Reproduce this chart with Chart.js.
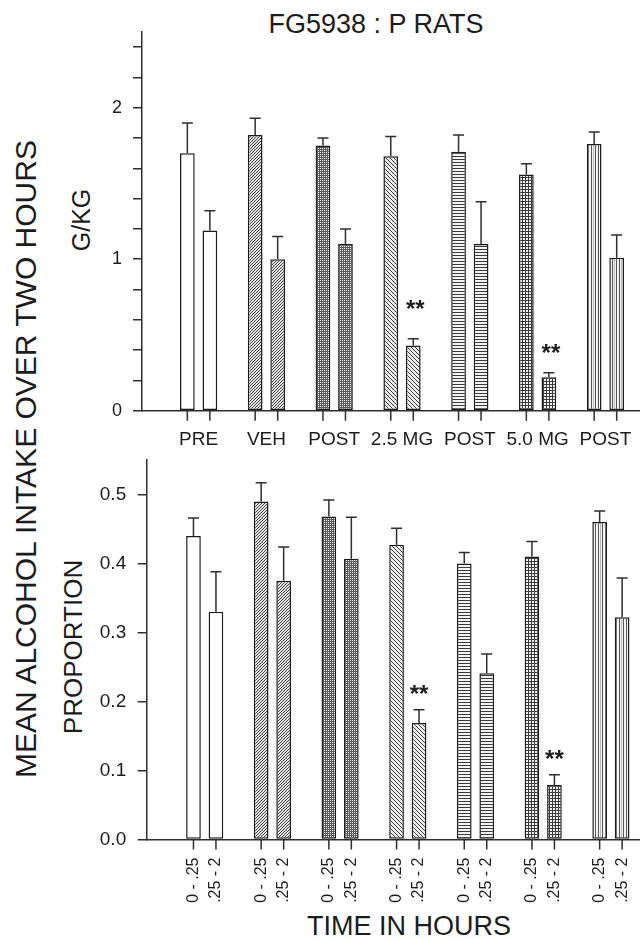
<!DOCTYPE html>
<html>
<head>
<meta charset="utf-8">
<script src="https://cdn.jsdelivr.net/npm/chart.js@4.4.1/dist/chart.umd.min.js"></script>
<style>
  html, body { margin: 0; padding: 0; background: #fff; }
  body { width: 640px; height: 939px; position: relative; overflow: hidden;
         font-family: "Liberation Sans", Arial, sans-serif; color: #1c1c1c; }
  canvas { position: absolute; left: 0; }
  .txt { position: absolute; white-space: nowrap; line-height: 1; transform: translate(-50%, -50%); }
  .rot { transform: translate(-50%, -50%) rotate(-90deg); }
</style>
</head>
<body>
<div class="txt" style="left:376px; top:23.5px; font-size:27px;">FG5938 : P RATS</div>
<div class="txt rot" style="left:26px; top:459px; font-size:30px;">MEAN ALCOHOL INTAKE OVER TWO HOURS</div>
<div class="txt rot" style="left:81px; top:220px; font-size:25px;">G/KG</div>
<div class="txt rot" style="left:72.5px; top:647px; font-size:26px;">PROPORTION</div>
<div class="txt" style="left:409px; top:925.5px; font-size:27px;">TIME IN HOURS</div>

<canvas id="gkg-chart" width="640" height="460" style="top:0"></canvas>
<canvas id="prop-chart" width="640" height="489" style="top:450px"></canvas>

<script>
// --- Datos ---
const groupLabels = ['PRE', 'VEH', 'POST', '2.5 MG', 'POST', '5.0 MG', 'POST'];
const timeLabels = ['0 - .25', '.25 - 2'];
const groupIndex = [0, 1, 2, 3, 4, 5, 6];

// G/KG (panel superior)
const gkgEarly = [1.70, 1.82, 1.75, 1.68, 1.71, 1.56, 1.76];
const gkgEarlyErr = [0.20, 0.11, 0.05, 0.13, 0.11, 0.07, 0.08];
const gkgLate = [1.19, 1.00, 1.10, 0.43, 1.10, 0.22, 1.01];
const gkgLateErr = [0.13, 0.15, 0.10, 0.045, 0.28, 0.03, 0.15];
const gkgStars = [null, null, null, 0.71, null, 0.42, null];
const gkgTicks = [0, 0.2, 0.4, 0.6, 0.8, 1, 1.2, 1.4, 1.6, 1.8, 2, 2.2, 2.4];
const gkgTickLabels = ['0', '', '', '', '', '1', '', '', '', '', '2', '', ''];

// PROPORTION (panel inferior)
const propEarly = [0.44, 0.49, 0.468, 0.427, 0.40, 0.41, 0.46];
const propEarlyErr = [0.026, 0.027, 0.024, 0.024, 0.016, 0.022, 0.016];
const propLate = [0.33, 0.375, 0.407, 0.169, 0.241, 0.079, 0.322];
const propLateErr = [0.058, 0.049, 0.06, 0.019, 0.028, 0.015, 0.057];
const propStars = [null, null, null, 0.219, null, 0.125, null];
const propTicks = [0, 0.1, 0.2, 0.3, 0.4, 0.5];
const propTickLabels = ['0.0', '0.1', '0.2', '0.3', '0.4', '0.5'];

const CAT_PCT = 0.664;
const BAR_PCT = 0.653;
const INK = '#1c1c1c';
const LINE = '#2e2e2e';

Chart.defaults.font.family = '"Liberation Sans", Arial, sans-serif';
Chart.defaults.color = INK;

// Tramas de relleno de las barras, una por grupo
function tile(w, h, paint) {
  const c = document.createElement('canvas');
  c.width = w; c.height = h;
  const g = c.getContext('2d');
  paint(g);
  return g.createPattern(c, 'repeat');
}
function dots(g, color, pts) {
  g.fillStyle = color;
  pts.forEach(([x, y]) => g.fillRect(x, y, 1, 1));
}
const patterns = [
  '#ffffff',
  tile(3, 3, g => { g.fillStyle = '#e4e4e4'; g.fillRect(0, 0, 3, 3); dots(g, '#454545', [[2, 0], [1, 1], [0, 2]]); }),
  tile(2, 2, g => { g.fillStyle = '#5a5a5a'; g.fillRect(0, 0, 2, 2); dots(g, '#f0f0f0', [[0, 0]]); }),
  tile(4, 4, g => { g.fillStyle = '#ececec'; g.fillRect(0, 0, 4, 4); dots(g, '#404040', [[0, 0], [1, 1], [2, 2], [3, 3]]); }),
  tile(1, 3, g => { g.fillStyle = '#f4f4f4'; g.fillRect(0, 0, 1, 3); dots(g, '#3a3a3a', [[0, 0]]); }),
  tile(3, 3, g => { g.fillStyle = '#f4f4f4'; g.fillRect(0, 0, 3, 3); g.fillStyle = '#3a3a3a'; g.fillRect(0, 0, 3, 1); g.fillRect(0, 0, 1, 3); }),
  tile(7, 1, g => { g.fillStyle = '#f4f4f4'; g.fillRect(0, 0, 7, 1); dots(g, '#555555', [[0, 0], [3, 0]]); dots(g, '#bbbbbb', [[5, 0]]); })
];

// Barras de error, asteriscos y marcas del eje x bajo cada barra
const errorBars = {
  id: 'errorBars',
  afterDatasetsDraw(chart, args, opts) {
    const ctx = chart.ctx;
    const yScale = chart.scales.y;
    const base = chart.chartArea.bottom;
    ctx.save();
    ctx.strokeStyle = LINE;
    ctx.lineWidth = 1.5;
    chart.data.datasets.forEach((ds, di) => {
      chart.getDatasetMeta(di).data.forEach((bar, i) => {
        const top = yScale.getPixelForValue(ds.data[i].y + ds.errors[i]);
        ctx.beginPath();
        ctx.moveTo(bar.x, bar.y);
        ctx.lineTo(bar.x, top);
        ctx.moveTo(bar.x - 5.5, top);
        ctx.lineTo(bar.x + 5.5, top);
        // marca del eje
        ctx.moveTo(bar.x, base);
        ctx.lineTo(bar.x, base + 10);
        ctx.stroke();
        if (ds.stars && ds.stars[i] != null) {
          ctx.fillStyle = INK;
          ctx.font = 'bold 24px "Liberation Sans", Arial, sans-serif';
          ctx.textAlign = 'center';
          ctx.textBaseline = 'alphabetic';
          ctx.fillText('**', bar.x + opts.starShift, yScale.getPixelForValue(ds.stars[i]) + 0.57 * 24);
        }
      });
    });
    ctx.restore();
  }
};

function makeChart(id, p) {
  const toPoints = vals => vals.map((v, i) => ({ x: groupIndex[i], y: v }));

  return new Chart(document.getElementById(id), {
    type: 'bar',
    data: {
      datasets: [
        { label: timeLabels[0], data: toPoints(p.early), errors: p.earlyErr },
        { label: timeLabels[1], data: toPoints(p.late), errors: p.lateErr, stars: p.stars }
      ].map(ds => Object.assign(ds, {
        backgroundColor: patterns,
        borderColor: INK,
        borderWidth: 1.5,
        borderSkipped: false,
        categoryPercentage: CAT_PCT,
        barPercentage: BAR_PCT
      }))
    },
    options: {
      responsive: false,
      animation: false,
      devicePixelRatio: 1,
      layout: { padding: { top: p.padTop, right: 0, bottom: 0, left: 0 } },
      plugins: { legend: { display: false }, tooltip: { enabled: false }, errorBars: { starShift: p.starShift } },
      scales: {
        x: {
          type: 'linear',
          min: p.xMin,
          max: p.xMax,
          offset: false,
          afterBuildTicks: s => { s.ticks = groupIndex.map(v => ({ value: v })); },
          afterFit: s => { s.height = p.xHeight; s.paddingLeft = 0; s.paddingRight = 0; },
          ticks: {
            autoSkip: false,
            minRotation: p.rotation,
            maxRotation: p.rotation,
            padding: p.xPad,
            labelOffset: p.labelOffset,
            font: { size: p.xFont, lineHeight: p.xLineHeight },
            callback: p.xLabel
          },
          grid: { drawOnChartArea: false, drawTicks: true, tickLength: 10, color: 'rgba(0,0,0,0)', offset: false },
          border: { display: true, color: LINE, width: 1.5 }
        },
        y: {
          min: 0,
          max: p.yMax,
          afterBuildTicks: s => { s.ticks = p.yTicks.map(v => ({ value: v })); },
          afterFit: s => { s.width = p.yWidth; s.paddingTop = 0; s.paddingBottom = 0; },
          ticks: { padding: p.yPad, font: { size: p.yFont }, callback: (v, i) => p.yTickLabels[i] },
          grid: { drawOnChartArea: false, drawTicks: true, tickLength: 9, color: LINE, lineWidth: 1.5 },
          border: { display: true, color: LINE, width: 1.5 }
        }
      }
    },
    plugins: [errorBars]
  });
}

makeChart('gkg-chart', {
  early: gkgEarly, earlyErr: gkgEarlyErr, late: gkgLate, lateErr: gkgLateErr, stars: gkgStars,
  yMax: 2.5, yTicks: gkgTicks, yTickLabels: gkgTickLabels,
  xMin: -0.835, xMax: 6.51, padTop: 32, xHeight: 49.3, yWidth: 142,
  yPad: 11, yFont: 18, xPad: 8, xFont: 19, xLineHeight: 1.2, rotation: 0, labelOffset: 0, starShift: 2,
  xLabel: (v, i) => groupLabels[i]
});

makeChart('prop-chart', {
  early: propEarly, earlyErr: propEarlyErr, late: propLate, lateErr: propLateErr, stars: propStars,
  yMax: 0.55, yTicks: propTicks, yTickLabels: propTickLabels,
  xMin: -0.857, xMax: 6.43, padTop: 10, xHeight: 99.5, yWidth: 146.7,
  yPad: 11.5, yFont: 19, xPad: 8, xFont: 16, xLineHeight: '22.5px', rotation: 90, labelOffset: -11.25, starShift: 0,
  xLabel: () => timeLabels
});
</script>
</body>
</html>
